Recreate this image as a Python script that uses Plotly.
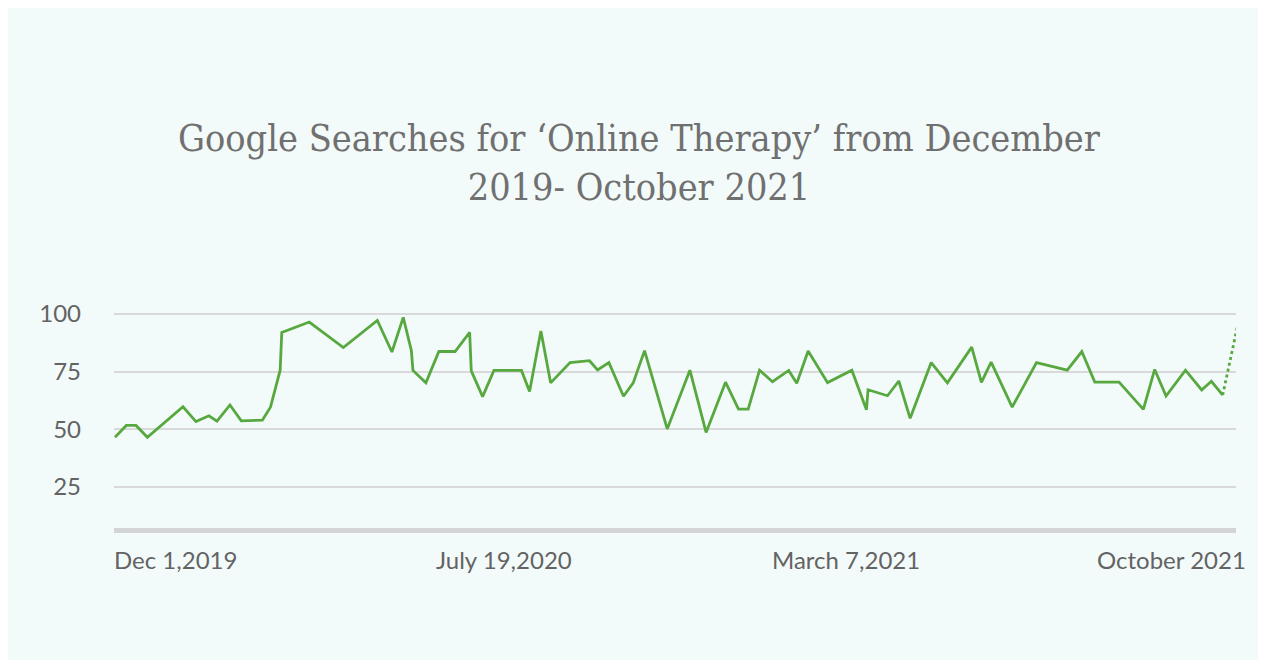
import pandas as pd
import plotly.graph_objects as go

# ---- data ----
start_date = "2019-12-01"
day_offsets = [0, 7, 13, 20, 42, 50, 58, 63, 71, 78,
               91, 96, 102, 103, 120, 141, 162, 171, 178, 183,
               184, 192, 200, 210, 219, 220, 227, 234, 251, 256,
               263, 269, 281, 293, 298, 305, 314, 320, 327, 341,
               355, 365, 377, 385, 391, 398, 406, 416, 421, 428,
               440, 455, 464, 465, 477, 484, 491, 504, 514, 529,
               535, 541, 554, 569, 588, 597, 605, 620, 635, 642,
               649, 661, 671, 677, 684]
search_index = [46.5, 51.6, 51.6, 46.5, 59.7, 53.3, 55.8, 53.5, 60.5, 53.6,
                53.9, 59.5, 75.6, 92, 96.5, 85.4, 97.2, 83.5, 98.5, 84.2,
                75.5, 70.1, 83.7, 83.7, 92, 75.3, 64.1, 75.5, 75.5, 66.3,
                92.6, 70.1, 78.9, 79.7, 75.7, 78.9, 64.3, 70.1, 84.1, 50.1,
                75.6, 48.6, 70.4, 58.7, 58.7, 75.6, 70.6, 75.5, 69.9, 83.9,
                70.2, 75.6, 58.4, 67.1, 64.5, 70.9, 54.7, 78.9, 70.1, 85.6,
                70.3, 79.1, 59.6, 78.9, 75.6, 83.7, 70.4, 70.4, 58.6, 75.9,
                64.4, 75.6, 67, 70.8, 64.8]
partial_offsets = [684, 693]
partial_values = [64.8, 94.4]

y_ticks = [25, 50, 75, 100]
x_labels = ["Dec 1,2019", "July 19,2020", "March 7,2021", "October 2021"]
x_label_pos = [-0.002, 0.2855, 0.5845, 1.0105]
x_label_anchor = ["left", "left", "left", "right"]

title_text = "Google Searches for ‘Online Therapy’ from December<br>2019- October 2021"

# ---- build ----
t0 = pd.Timestamp(start_date)
dates = [t0 + pd.Timedelta(days=d) for d in day_offsets]
pdates = [t0 + pd.Timedelta(days=d) for d in partial_offsets]

GREEN = "#58a840"
GRAY_TXT = "#636363"
MINT = "#f3fbfa"

fig = go.Figure()
fig.add_trace(go.Scatter(x=dates, y=search_index, mode="lines",
                         line=dict(color=GREEN, width=2.8), hoverinfo="x+y",
                         showlegend=False))
fig.add_trace(go.Scatter(x=pdates, y=partial_values, mode="lines",
                         line=dict(color=GREEN, width=2.8, dash="dot"),
                         cliponaxis=False, showlegend=False))

L, R, T, B = 114, 30, 290, 140
W, H = 1266, 668
pw, ph = W - L - R, H - T - B

# mint card behind the chart
fig.add_shape(type="rect", xref="paper", yref="paper",
              x0=(8 - L) / pw, x1=(1258 - L) / pw,
              y0=((H - B) - 660) / ph, y1=((H - B) - 8) / ph,
              fillcolor=MINT, line=dict(width=0), layer="below")

for txt, xp, anc in zip(x_labels, x_label_pos, x_label_anchor):
    fig.add_annotation(text=txt, xref="paper", yref="paper", x=xp, y=-0.133,
                       xanchor=anc, yanchor="middle", showarrow=False,
                       font=dict(family="Lato", size=24, color=GRAY_TXT))

fig.update_layout(
    width=W, height=H,
    margin=dict(l=L, r=R, t=T, b=B, pad=0),
    paper_bgcolor="white",
    plot_bgcolor="rgba(0,0,0,0)",
    title=dict(text=title_text, x=639 / W, xref="container", xanchor="center",
               y=1 - 151 / H, yref="container", yanchor="middle",
               font=dict(family="DejaVu Serif Condensed, DejaVu Serif", size=37.5,
                         color="#707070")),
    xaxis=dict(type="date",
               range=[t0 - pd.Timedelta(days=0.6), t0 + pd.Timedelta(days=692.2)],
               showgrid=False, zeroline=False, showticklabels=False, ticks="",
               showline=True, linecolor="#d4d4d6", linewidth=5),
    yaxis=dict(range=[7.1, 110.4], tickvals=y_ticks, ticks="",
               showgrid=True, gridcolor="#d9d9db", gridwidth=1.6,
               zeroline=False, showline=False,
               ticklabelstandoff=32,
               tickfont=dict(family="Lato", size=24, color=GRAY_TXT)),
)

fig.write_html("out.html")
